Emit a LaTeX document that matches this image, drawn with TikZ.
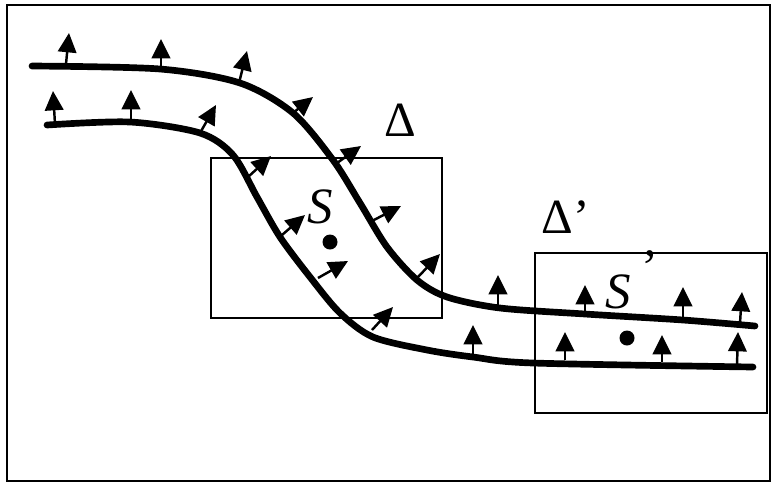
\documentclass[tikz,border=0pt]{standalone}
\usepackage{fontspec}
\setmainfont{Liberation Serif}
\usetikzlibrary{arrows.meta}

\begin{document}
\begin{tikzpicture}[
  x=0.02cm, y=-0.02cm,
  surf/.style={line width=3.8pt, line cap=round},
  normal/.style={-{Triangle[length=11pt,width=10.5pt]}, line width=1.4pt},
  win/.style={draw, line width=0.8pt},
  lab/.style={font=\fontsize{28}{28}\selectfont, inner sep=0pt}
]
\useasboundingbox (0,0) rectangle (774,485);
\draw[line width=1.1pt] (7,5) rectangle (770,481);

% neighbourhoods
\draw[win] (211,158) rectangle (442,318);
\draw[win] (535,253) rectangle (767,413);

% the two surfaces
\draw[surf] plot[smooth] coordinates {(32,66) (160,69) (240,83) (293,113) (333,160)
  (360,203) (387,247) (417,280) (447,297) (500,308) (585,314) (683,320) (755,326)};
\draw[surf] plot[smooth] coordinates {(47,125) (130,122) (200,133) (233,155) (257,197)
  (280,237) (310,277) (340,313) (373,337) (427,350) (473,357) (533,363) (753,367)};

% normals
\foreach \xa/\ya/\xb/\yb in {66/64/69/33, 161/68/161/39, 239/83/247/51, 293/113/313/97,
  337/163/361/146, 370/222/401/206, 417/278/440/254, 498/305/498/275, 585/313/585/285,
  683/318/683/287, 740/323/742/292}
  \draw[normal] (\xa,\ya) -- (\xb,\yb);
\foreach \xa/\ya/\xb/\yb in {55/124/53/91, 131/122/131/90, 200/133/216/105, 248/177/271/156,
  282/235/305/215, 318/278/348/261, 372/330/393/307, 473/355/473/325, 565/360/565/332,
  662/362/662/335, 737/365/738/332}
  \draw[normal] (\xa,\ya) -- (\xb,\yb);

% points and labels
\fill (330,242) circle[radius=7.5];
\fill (627,338) circle[radius=7.5];
\node[lab] (delta) at (400,120) {Δ};
\node[lab] (deltap) at (566,217) {Δ’};
\node[lab, font=\fontsize{29}{29}\selectfont] (s) at (320,207) {\textit{S}};
\node[lab, font=\fontsize{29}{29}\selectfont] (sp) at (618,292) {\textit{S}};
\node[lab, font=\fontsize{29}{29}\selectfont] (prime) at (650,268) {’};
\end{tikzpicture}
\end{document}
